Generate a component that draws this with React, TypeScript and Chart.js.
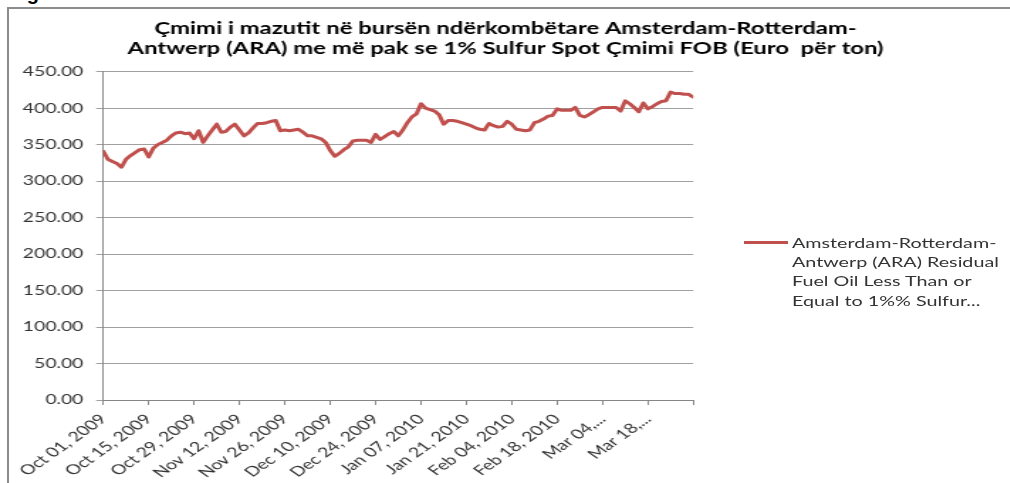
import React, { useEffect, useRef } from "react";
import { Chart, registerables } from "chart.js";

Chart.register(...registerables);

// horizontal stretch of the original picture
const K = 1.42;
const W = 712;
const H = 483;
const FONT = "Lato, 'Open Sans', sans-serif";

const titleLines = [
  "Çmimi i mazutit në bursën ndërkombëtare Amsterdam-Rotterdam-",
  "Antwerp (ARA) me më pak se 1% Sulfur Spot Çmimi FOB (Euro  për ton)",
];

const legendLines = [
  "Amsterdam-Rotterdam-",
  "Antwerp (ARA) Residual",
  "Fuel Oil Less Than or",
  "Equal to 1%% Sulfur...",
];

const tickLabels = [
  "Oct 01, 2009",
  "Oct 15, 2009",
  "Oct 29, 2009",
  "Nov 12, 2009",
  "Nov 26, 2009",
  "Dec 10, 2009",
  "Dec 24, 2009",
  "Jan 07, 2010",
  "Jan 21, 2010",
  "Feb 04, 2010",
  "Feb 18, 2010",
  "Mar 04,...",
  "Mar 18,...",
];

const yTicks = [0, 50, 100, 150, 200, 250, 300, 350, 400, 450];

// daily (weekday) prices, Oct 01 2009 .. Apr 01 2010
const prices = [
  341, 330, 327, 324, 319, 330, 335, 339, 343, 344,
  333, 345, 350, 353, 356, 362, 366, 367, 365, 366,
  358, 369, 353, 362, 370, 378, 367, 368, 374, 378,
  370, 362, 366, 373, 379, 379, 380, 382, 383, 369,
  370, 369, 370, 371, 367, 362, 362, 360, 358, 353,
  342, 334, 338, 343, 347, 355, 356, 356, 356, 353,
  364, 357, 361, 365, 368, 362, 370, 380, 388, 392,
  406, 400, 398, 396, 391, 378, 383, 383, 382, 380,
  378, 376, 373, 371, 370, 379, 376, 374, 375, 382,
  378, 371, 370, 369, 370, 380, 382, 385, 389, 390,
  399, 397, 397, 397, 401, 390, 388, 391, 395, 399,
  401, 401, 401, 401, 396, 410, 406, 401, 395, 407,
  399, 402, 406, 409, 410, 422, 420, 420, 419, 419,
  415,
];

const seriesName =
  "Amsterdam-Rotterdam-Antwerp (ARA) Residual Fuel Oil Less Than or Equal to 1%% Sulfur Spot Price FOB";

export default function App() {
  const ref = useRef<HTMLCanvasElement | null>(null);

  useEffect(() => {
    if (!ref.current) return;
    const chart = new Chart(ref.current, {
      type: "line",
      data: {
        datasets: [
          {
            label: seriesName,
            data: prices.map((v, i) => ({ x: i, y: v })),
            borderColor: "#c0504d",
            backgroundColor: "#c0504d",
            borderWidth: 3,
            pointRadius: 0,
            tension: 0,
            fill: false,
            borderJoinStyle: "round",
            borderCapStyle: "round",
          },
        ],
      },
      options: {
        animation: false,
        responsive: false,
        devicePixelRatio: 1,
        layout: { padding: { left: 0, right: 0, top: 0, bottom: 0 } },
        plugins: {
          legend: { display: false },
          tooltip: { enabled: false },
          title: {
            display: true,
            text: titleLines,
            color: "#000",
            font: { family: FONT, size: 16.8, weight: "bold", lineHeight: 1.18 },
            padding: { top: 19, bottom: 13 },
          },
        },
        scales: {
          x: {
            type: "linear",
            min: 0,
            max: prices.length - 1,
            ticks: {
              stepSize: 10,
              autoSkip: false,
              maxRotation: 45,
              minRotation: 45,
              padding: 6,
              color: "#333",
              font: { family: FONT, size: 13.7 },
              callback: (v: any) => tickLabels[Math.round(Number(v) / 10)] ?? "",
            },
            grid: { drawOnChartArea: false, color: "#868686", tickLength: 5 },
            border: { color: "#868686" },
            afterFit: (s: any) => {
              s.height = 83;
            },
          },
          y: {
            min: 0,
            max: 450,
            afterBuildTicks: (s: any) => {
              s.ticks = yTicks.map((v) => ({ value: v }));
            },
            ticks: {
              padding: 9,
              color: "#333",
              font: { family: FONT, size: 13.6 },
              callback: (v: any) => Number(v).toFixed(2),
            },
            grid: { color: "#a0a0a0", tickLength: 5 },
            border: { color: "#868686" },
            afterFit: (s: any) => {
              s.width = 72.75;
            },
          },
          y2: {
            position: "right",
            display: true,
            grid: { display: false },
            border: { display: false },
            ticks: { display: false },
            afterFit: (s: any) => {
              s.width = 223.8;
            },
          },
        },
      },
    });
    return () => chart.destroy();
  }, []);

  return (
    <div
      style={{
        position: "absolute",
        left: 0,
        top: 0,
        width: 1010,
        height: 483,
        overflow: "hidden",
        background: "#fff",
      }}
    >
      <div
        style={{
          position: "absolute",
          left: 9,
          top: -17,
          font: "bold 20px 'Liberation Sans', Arial, sans-serif",
          lineHeight: "20px",
          color: "#000",
          whiteSpace: "nowrap",
        }}
      >
        Figura
      </div>
      <div
        style={{
          position: "absolute",
          left: 7,
          top: 7,
          width: 1100,
          height: 600,
          borderLeft: "2px solid #8c8c8c",
          borderTop: "2px solid #8c8c8c",
        }}
      />
      <div
        style={{
          position: "absolute",
          left: 0,
          top: 0,
          width: W,
          height: H,
          transform: `scaleX(${K})`,
          transformOrigin: "0 0",
        }}
      >
        <canvas ref={ref} width={W} height={H} style={{ display: "block" }} />
      </div>
      <div
        style={{
          position: "absolute",
          left: 744,
          top: 241,
          width: 44,
          height: 3,
          background: "#c0504d",
        }}
      />
      <div
        style={{
          position: "absolute",
          left: 792,
          top: 233,
          transform: `scaleX(${K})`,
          transformOrigin: "0 0",
          font: `13.9px ${FONT}`,
          lineHeight: "19.2px",
          color: "#333",
          whiteSpace: "nowrap",
        }}
      >
        {legendLines.map((l, i) => (
          <div key={i}>{l}</div>
        ))}
      </div>
    </div>
  );
}
